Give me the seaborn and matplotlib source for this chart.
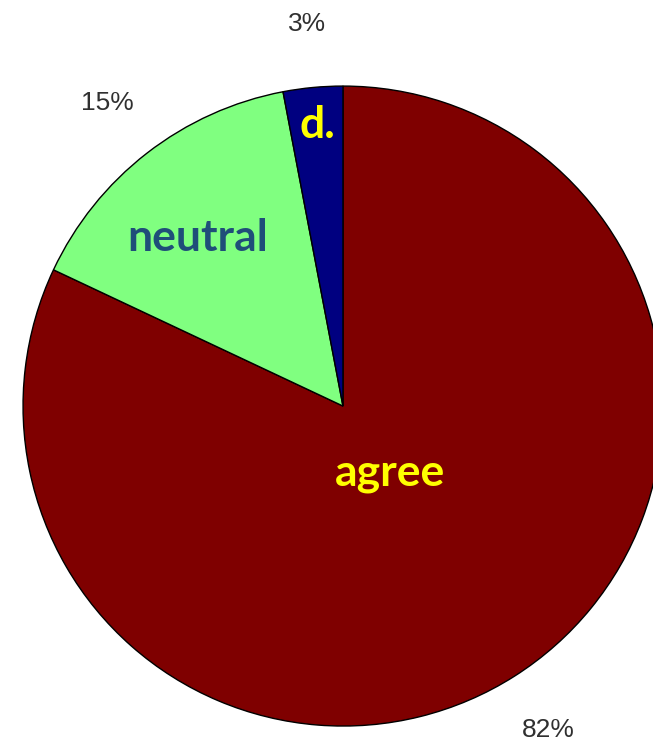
import matplotlib
matplotlib.use("Agg")
import matplotlib.pyplot as plt
import seaborn as sns
import numpy as np

categories = ["agree", "neutral", "d."]
values = [82, 15, 3]
pct_labels = ["82%", "15%", "3%"]
slice_colors = ["#7F0000", "#80FF80", "#000080"]
label_colors = ["#FFFF00", "#1F4E79", "#FFFF00"]
# inner label positions (in pie-radius units relative to centre)
label_pos = [(0.147, -0.209), (-0.453, 0.525), (-0.081, 0.878)]

sns.set_theme(style="white")
plt.rcParams["font.family"] = ["Lato", "DejaVu Sans"]

fig = plt.figure(figsize=(6.53, 7.43), dpi=100)
ax = fig.add_axes([0, 0, 1, 1])

wedges, _ = ax.pie(values, colors=slice_colors, startangle=90, counterclock=False,
                   radius=1.0, wedgeprops=dict(edgecolor="black", linewidth=1.0),
                   labels=None)

# percentage labels outside, at mid-angle
total = sum(values)
start = 90.0
for v, t in zip(values, pct_labels):
    mid = start - 360.0 * v / total / 2
    start -= 360.0 * v / total
    r = 1.2
    ax.text(r * np.cos(np.radians(mid)), r * np.sin(np.radians(mid)), t,
            ha="center", va="center", fontsize=19, color="#303030",
            family=["Liberation Sans"])

for name, (x, y), c in zip(categories, label_pos, label_colors):
    ax.text(x, y, name, ha="center", va="center", fontsize=32,
            fontweight="bold", color=c)

ax.set_xlim(-1.072, 0.969)
ax.set_ylim(-1.053, 1.269)
ax.set_aspect("auto")
ax.axis("off")

fig.savefig("out.png", dpi=100, facecolor="white")
